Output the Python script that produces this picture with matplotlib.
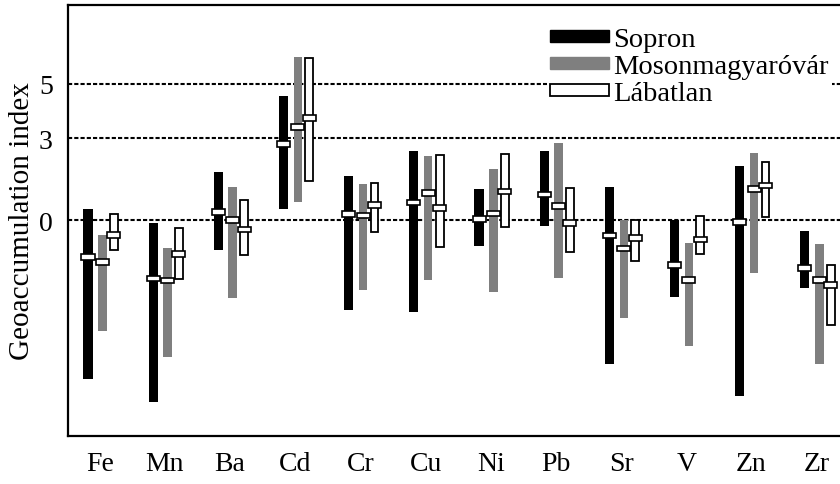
import numpy as np
import matplotlib
matplotlib.use("Agg")
import matplotlib.pyplot as plt
import matplotlib.patches as mpatches

plt.rcParams['font.family'] = ['Liberation Serif', 'DejaVu Serif']

elements = ['Fe', 'Mn', 'Ba', 'Cd', 'Cr', 'Cu', 'Ni', 'Pb', 'Sr', 'V', 'Zn', 'Zr']
sites = ['Sopron', 'Mosonmagyaróvár', 'Lábatlan']

# min / max / median of Igeo for each site
sopron_max = [0.41, -0.11, 1.78, 4.55, 1.62, 2.52, 1.15, 2.55, 1.23, 0.0, 1.97, -0.39]
sopron_min = [-5.83, -6.66, -1.11, 0.40, -3.28, -3.37, -0.95, -0.21, -5.28, -2.81, -6.45, -2.48]
sopron_med = [-1.35, -2.14, 0.29, 2.79, 0.22, 0.65, 0.04, 0.93, -0.56, -1.65, -0.07, -1.76]

moson_max = [-0.53, -1.02, 1.23, 5.98, 1.33, 2.36, 1.86, 2.83, 0.0, -0.84, 2.47, -0.89]
moson_min = [-4.07, -5.0, -2.84, 0.66, -2.56, -2.21, -2.64, -2.12, -3.58, -4.6, -1.94, -5.28]
moson_med = [-1.53, -2.21, 0.0, 3.42, 0.17, 0.99, 0.24, 0.52, -1.03, -2.19, 1.14, -2.2]

labat_max = [0.21, -0.29, 0.74, 5.95, 1.36, 2.39, 2.42, 1.18, 0.02, 0.15, 2.14, -1.63]
labat_min = [-1.09, -2.15, -1.27, 1.45, -0.44, -0.99, -0.27, -1.17, -1.48, -1.25, 0.12, -3.84]
labat_med = [-0.54, -1.24, -0.34, 3.75, 0.56, 0.45, 1.05, -0.11, -0.65, -0.71, 1.27, -2.37]

ref_lines = [0, 3, 5]

fig = plt.figure(figsize=(8.4, 4.85), dpi=100)
ax = fig.add_axes([0.081, 0.099, 0.919, 0.889])

x = np.arange(len(elements))

for y in ref_lines:
    ax.axhline(y, color='black', lw=1.5, linestyle=(0, (2, 1)), zorder=1)

series = [
    (sopron_min, sopron_max, sopron_med, -0.22, 0.14, 'black', 'black', 0),
    (moson_min, moson_max, moson_med, 0.0, 0.13, '#7f7f7f', '#7f7f7f', 0),
    (labat_min, labat_max, labat_med, 0.175, 0.12, 'white', 'black', 1.3),
]

for lo, hi, med, off, w, fc, ec, lw in series:
    lo = np.array(lo)
    hi = np.array(hi)
    med = np.array(med)
    ax.bar(x + off, hi - lo, bottom=lo, width=w, color=fc, edgecolor=ec,
           linewidth=lw, zorder=2)
    # median marker
    ax.bar(x + off, 0.2, bottom=med - 0.1, width=0.2, color='white',
           edgecolor='black', linewidth=1.2, zorder=3)

ax.set_xlim(-0.526, 11.318)
ax.set_ylim(-7.91, 7.89)

ax.set_xticks(x - 0.04)
ax.set_xticklabels(elements, fontsize=20)
ax.tick_params(axis='x', length=0, pad=11)
ax.set_yticks(ref_lines)
ax.set_yticklabels([str(v) for v in ref_lines], fontsize=20)
ax.tick_params(axis='y', direction='in', length=3, width=1.2, pad=11)
ax.set_ylabel('Geoaccumulation index', fontsize=21, labelpad=3)

for s in ['left', 'top', 'bottom']:
    ax.spines[s].set_linewidth(1.6)
ax.spines['right'].set_visible(False)

h1 = mpatches.Patch(facecolor='black', edgecolor='black', label=sites[0])
h2 = mpatches.Patch(facecolor='#7f7f7f', edgecolor='#7f7f7f', label=sites[1])
h3 = mpatches.Patch(facecolor='white', edgecolor='black', linewidth=1.3, label=sites[2])
leg = ax.legend(handles=[h1, h2, h3], loc='upper left', bbox_to_anchor=(0.62, 0.955),
                fontsize=20.5, frameon=True, fancybox=False, handlelength=2.1,
                handleheight=0.3, handletextpad=0.15, labelspacing=0.07,
                borderpad=0.1, borderaxespad=0)
leg.get_frame().set_edgecolor('none')
leg.get_frame().set_facecolor('white')
leg.get_frame().set_alpha(1)

plt.savefig('out.png', dpi=100)
